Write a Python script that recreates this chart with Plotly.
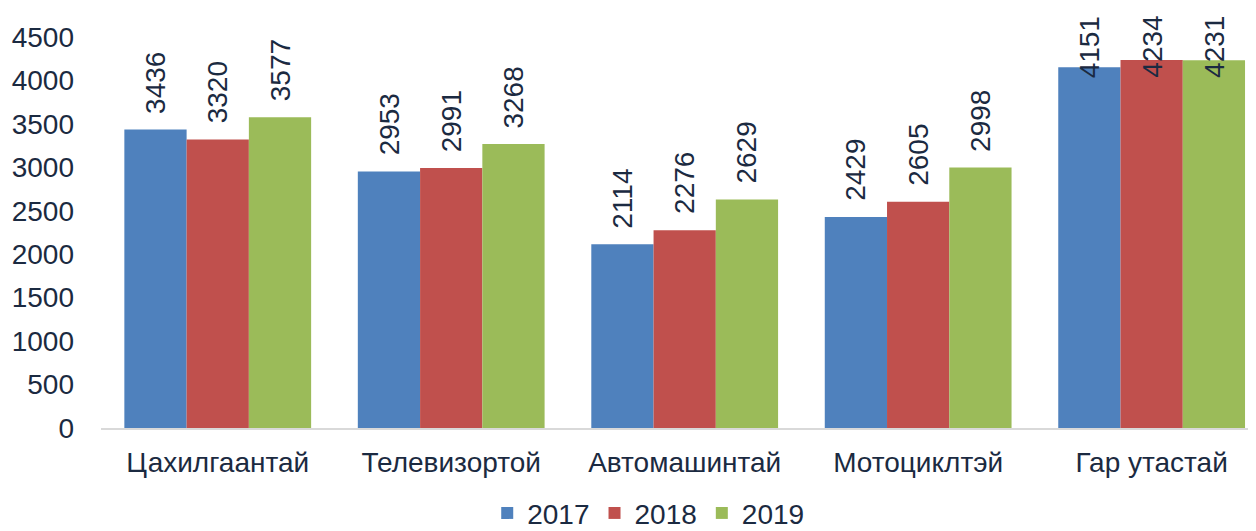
import plotly.graph_objects as go

categories = ["Цахилгаантай", "Телевизортой", "Автомашинтай", "Мотоциклтэй", "Гар утастай"]
years = ["2017", "2018", "2019"]
v2017 = [3436, 2953, 2114, 2429, 4151]
v2018 = [3320, 2991, 2276, 2605, 4234]
v2019 = [3577, 3268, 2629, 2998, 4231]
series = [v2017, v2018, v2019]
colors = ["#4f81bd", "#c0504d", "#9bbb59"]
tick_vals = [0, 500, 1000, 1500, 2000, 2500, 3000, 3500, 4000, 4500]

TXT = "#1b2a41"
FONT = "Arial, Liberation Sans, sans-serif"

fig = go.Figure()
for name, vals, col in zip(years, series, colors):
    fig.add_trace(go.Bar(x=categories, y=vals, name=name, marker=dict(color=col, line=dict(width=0))))

# rotated value labels, kept inside the chart area
label_cap = 3844
offsets = [-1, 0, 1]
for vals, off in zip(series, offsets):
    for i, v in enumerate(vals):
        fig.add_annotation(
            x=i + off * 0.2667, y=min(v, label_cap), xref="x", yref="y",
            text=str(v), textangle=-90, showarrow=False,
            yanchor="bottom", xanchor="center", yshift=14,
            font=dict(size=28, color=TXT, family=FONT),
        )

fig.update_layout(
    width=1248, height=523,
    margin=dict(l=93, r=0, t=29, b=103, autoexpand=False),
    paper_bgcolor="white", plot_bgcolor="white",
    barmode="group", bargap=0.2, bargroupgap=0,
    font=dict(family=FONT, size=28, color=TXT),
    showlegend=True,
    legend=dict(orientation="h", xref="container", yref="container",
                x=0.513, xanchor="center", y=0.034, yanchor="middle",
                font=dict(size=28, color=TXT), itemwidth=30, traceorder="normal"),
)
fig.update_xaxes(
    type="category", range=[-0.5, 4.447], automargin=False,
    showline=True, linecolor="#d9d9d9", linewidth=2,
    ticks="", showgrid=False, tickfont=dict(size=28, color=TXT),
    ticklabelstandoff=8,
)
fig.update_yaxes(
    range=[0, 4500], tickvals=tick_vals, showgrid=False, zeroline=False, automargin=False,
    showline=False, ticks="", ticklabelstandoff=26, tickfont=dict(size=28, color=TXT),
)

fig.write_html("out.html")
